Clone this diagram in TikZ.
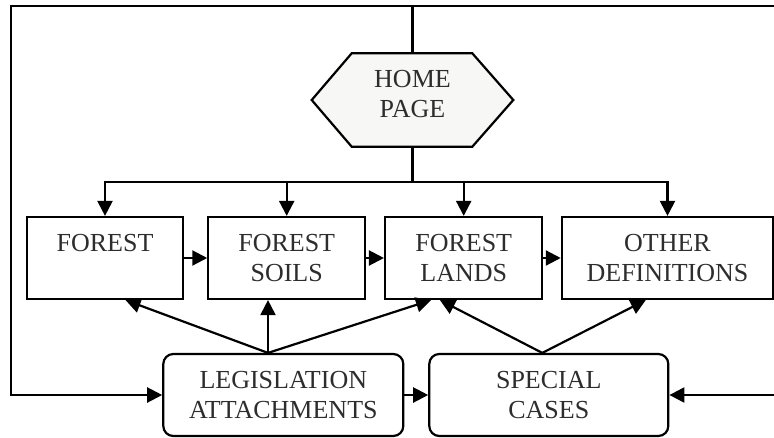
\documentclass[tikz,border=0pt]{standalone}
\usepackage{fontspec}
\setmainfont{Liberation Serif}
\usetikzlibrary{arrows.meta}
\definecolor{txt}{RGB}{45,45,45}
\definecolor{hexfill}{RGB}{247,247,245}
\tikzset{
  every node/.style={font=\fontsize{26}{30}\selectfont, text=txt, align=center},
  box/.style={draw=black, line width=2.2pt, inner sep=0pt},
  rbox/.style={box, rounded corners=10pt},
  conn/.style={draw=black, line width=2.2pt},
  arr/.style={conn, -{Triangle[length=15pt,width=15pt]}},
}
\begin{document}
\begin{tikzpicture}[x=1pt,y=-1pt]
\useasboundingbox (0,0) rectangle (774,437);
% home page hexagon
\coordinate (hextop) at (412.5,53.3);
\coordinate (hexbot) at (412.5,146.7);
\filldraw[fill=hexfill, draw=black, line width=2.2pt, line join=miter]
  (311.7,100) -- (351.7,53.3) -- (472.3,53.3) -- (513.3,100) -- (472.3,146.7) -- (351.7,146.7) -- cycle;
\node (home) at (412.5,94) {HOME\\PAGE};
% boxes
\node[box, minimum width=156.7pt, minimum height=82pt] (forest) at (105,258) {FOREST\\\mbox{}};
\node[box, minimum width=156.7pt, minimum height=82pt] (soils) at (286.7,258) {FOREST\\SOILS};
\node[box, minimum width=157.3pt, minimum height=82pt] (lands) at (463.7,258) {FOREST\\LANDS};
\node[box, minimum width=211.3pt, minimum height=82pt] (other) at (667.5,258) {OTHER\\DEFINITIONS};
\node[rbox, minimum width=240pt, minimum height=82pt] (legis) at (283.3,395) {LEGISLATION\\ATTACHMENTS};
\node[rbox, minimum width=239pt, minimum height=82pt] (special) at (548.8,395) {SPECIAL\\CASES};
% frame coordinates
\coordinate (topmid) at (412.5,6);
\coordinate (topleft) at (11,6);
\coordinate (topright) at (774,6);
\coordinate (leftbot) at (11,395);
\coordinate (rightbot) at (774,395);
\coordinate (dist) at (412.5,182);
\coordinate (distL) at (105,182);
\coordinate (distR) at (667.5,182);
% top loop
\draw[conn, line cap=rect] (topright) -- (topmid) -- (topleft) -- (leftbot);
\draw[conn] (hextop) -- (topmid);
\draw[arr] (leftbot) -- (legis.west);
\draw[arr] (rightbot) -- (special.east);
% distribution
\draw[conn] (hexbot) -- (dist);
\draw[conn, line cap=rect] (distL) -- (distR);
\draw[arr] (distL) -- (forest.north);
\draw[arr] (soils.north |- dist) -- (soils.north);
\draw[arr] (lands.north |- dist) -- (lands.north);
\draw[arr] (distR) -- (other.north);
% horizontal chain
\draw[arr] (forest.east) -- (soils.west);
\draw[arr] (soils.east) -- (lands.west);
\draw[arr] (lands.east) -- (other.west);
\draw[arr] (legis.east) -- (special.west);
% from bottom boxes
\coordinate (lsrc) at ([xshift=-15.3pt]legis.north);
\coordinate (ssrc) at ([xshift=-6.5pt]special.north);
\draw[arr] (lsrc) -- ([xshift=100pt]forest.south west);
\draw[arr] (lsrc) -- (soils.south -| lsrc);
\draw[arr] (lsrc) -- ([xshift=47pt]lands.south west);
\draw[arr] (ssrc) -- ([xshift=56pt]lands.south west);
\draw[arr] (ssrc) -- ([xshift=85pt]other.south west);
\end{tikzpicture}
\end{document}
